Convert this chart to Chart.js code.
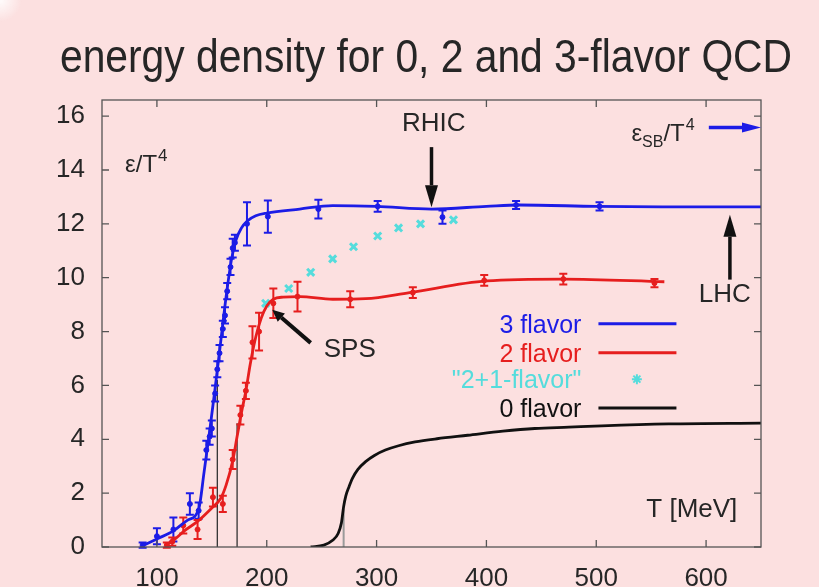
<!DOCTYPE html>
<html>
<head>
<meta charset="utf-8">
<script src="https://cdn.jsdelivr.net/npm/chart.js@4.4.1/dist/chart.umd.min.js"></script>
<style>
  html, body { margin: 0; padding: 0; background: #fce0e0; }
  #wrap { width: 819px; height: 587px; position: relative; }
</style>
</head>
<body>
<div id="wrap"><canvas id="qcd-chart"></canvas></div>
<script>
// axis ticks
const xTicks = [100, 200, 300, 400, 500, 600];
const yTicks = [0, 2, 4, 6, 8, 10, 12, 14, 16];

// 3 flavor: fitted curve
const blueLineT = [87, 100, 115, 128, 138, 143, 148, 153, 158, 163, 168, 172, 177, 182, 190, 200, 230, 260, 300, 350, 400, 430, 500, 560, 650];
const blueLineE = [0.05, 0.3, 0.6, 1.0, 1.4, 2.8, 4.3, 5.9, 7.6, 9.3, 10.7, 11.4, 11.85, 12.1, 12.3, 12.4, 12.55, 12.68, 12.65, 12.55, 12.65, 12.7, 12.65, 12.63, 12.63];
// 3 flavor: lattice points with errors
const blueT = [87, 100, 115, 130, 138, 145, 148, 150, 153, 155, 157, 160, 162, 164, 167, 169, 171, 182, 201, 247, 301, 360, 427, 503];
const blueE = [0.07, 0.4, 0.65, 1.6, 1.35, 3.6, 4.1, 4.4, 5.7, 6.6, 7.2, 8.1, 8.6, 9.5, 10.4, 11.1, 11.3, 12.0, 12.27, 12.55, 12.65, 12.25, 12.7, 12.65];
const blueErr = [0.1, 0.3, 0.45, 0.4, 0.3, 0.35, 0.3, 0.3, 0.3, 0.3, 0.3, 0.3, 0.3, 0.3, 0.3, 0.35, 0.3, 0.8, 0.6, 0.35, 0.2, 0.25, 0.15, 0.15];

// 2 flavor: fitted curve
const redLineT = [107, 115, 125, 137, 150, 158, 163, 169, 173, 177, 181, 185, 190, 195, 200, 206, 215, 230, 260, 290, 330, 400, 470, 562];
const redLineE = [0.05, 0.25, 0.6, 0.95, 1.45, 1.8, 2.3, 3.2, 4.1, 5.0, 5.8, 6.8, 7.8, 8.5, 8.95, 9.2, 9.28, 9.3, 9.2, 9.22, 9.45, 9.88, 9.95, 9.85];
// 2 flavor: lattice points with errors
const redT = [109, 114, 124, 137, 151, 160, 169, 176, 181, 187, 193, 206, 228, 276, 333, 398, 470, 553];
const redE = [0.07, 0.2, 0.8, 0.65, 1.85, 1.6, 3.25, 4.9, 5.8, 7.6, 8.0, 9.05, 9.3, 9.2, 9.45, 9.9, 9.95, 9.8];
const redErr = [0.1, 0.15, 0.3, 0.35, 0.35, 0.3, 0.35, 0.35, 0.3, 0.6, 0.7, 0.55, 0.55, 0.3, 0.2, 0.2, 0.2, 0.15];

// "2+1-flavor" stars
const starT = [199, 220, 240, 260, 279, 301, 320, 340, 370];
const starE = [9.05, 9.6, 10.2, 10.7, 11.15, 11.55, 11.85, 12.0, 12.15];

// 0 flavor (pure gauge)
const zeroT = [240, 252, 260, 265, 268, 270, 272, 275, 278, 283, 290, 298, 308, 320, 335, 355, 383, 415, 444, 475, 505, 566, 650];
const zeroE = [0, 0.07, 0.25, 0.5, 0.9, 1.5, 1.9, 2.25, 2.55, 2.88, 3.17, 3.4, 3.6, 3.76, 3.9, 4.02, 4.15, 4.3, 4.4, 4.45, 4.5, 4.57, 4.6];

// transition temperatures (drop lines)
const tcT = [155, 173];
const tcTop = [6.2, 4.6];
const tcGaugeT = 270;
const tcGaugeTop = 1.4;

const BLUE = '#1c1ce6';
const RED = '#e61e1e';
const CYAN = '#55dcdc';
const INK = '#262626';
const FONT = '"Liberation Sans", Arial, Helvetica, sans-serif';

const pts = (xs, ys) => xs.map((x, i) => ({ x: x, y: ys[i] }));

function arrow(ctx, x1, y1, x2, y2, color, width, headLen, headW) {
    const a = Math.atan2(y2 - y1, x2 - x1);
    const bx = x2 - headLen * Math.cos(a), by = y2 - headLen * Math.sin(a);
    ctx.save();
    ctx.strokeStyle = color;
    ctx.fillStyle = color;
    ctx.lineWidth = width;
    ctx.beginPath();
    ctx.moveTo(x1, y1);
    ctx.lineTo(bx, by);
    ctx.stroke();
    ctx.beginPath();
    ctx.moveTo(x2, y2);
    ctx.lineTo(bx + headW / 2 * Math.sin(a), by - headW / 2 * Math.cos(a));
    ctx.lineTo(bx - headW / 2 * Math.sin(a), by + headW / 2 * Math.cos(a));
    ctx.closePath();
    ctx.fill();
    ctx.restore();
}

const decor = {
    id: 'decor',
    beforeDraw(chart) {
        // soft white corner of the original slide
        const ctx = chart.ctx;
        ctx.save();
        const g = ctx.createRadialGradient(0, 0, 0, 0, 0, 22);
        g.addColorStop(0, 'rgba(255,255,255,0.9)');
        g.addColorStop(1, 'rgba(255,255,255,0)');
        ctx.fillStyle = g;
        ctx.fillRect(0, 0, 24, 24);
        ctx.restore();
    },
    beforeDatasetsDraw(chart) {
        const ctx = chart.ctx, x = chart.scales.x, y = chart.scales.y;
        ctx.save();
        // Tc drop lines
        ctx.strokeStyle = '#333';
        ctx.lineWidth = 1.3;
        tcT.forEach((t, i) => {
            ctx.beginPath();
            ctx.moveTo(x.getPixelForValue(t), y.getPixelForValue(0));
            ctx.lineTo(x.getPixelForValue(t), y.getPixelForValue(tcTop[i]));
            ctx.stroke();
        });
        ctx.strokeStyle = '#9a9a9a';
        ctx.lineWidth = 2;
        ctx.beginPath();
        ctx.moveTo(x.getPixelForValue(tcGaugeT), y.getPixelForValue(0));
        ctx.lineTo(x.getPixelForValue(tcGaugeT), y.getPixelForValue(tcGaugeTop));
        ctx.stroke();

        // error bars
        const bars = (ts, es, errs, color) => {
            ctx.strokeStyle = color;
            ctx.lineWidth = 2;
            ts.forEach((t, i) => {
                const px = x.getPixelForValue(t);
                const lo = y.getPixelForValue(es[i] - errs[i]);
                const hi = y.getPixelForValue(es[i] + errs[i]);
                ctx.beginPath();
                ctx.moveTo(px, lo); ctx.lineTo(px, hi);
                ctx.moveTo(px - 4, lo); ctx.lineTo(px + 4, lo);
                ctx.moveTo(px - 4, hi); ctx.lineTo(px + 4, hi);
                ctx.stroke();
            });
        };
        bars(blueT, blueE, blueErr, BLUE);
        bars(redT, redE, redErr, RED);
        ctx.restore();
    },
    afterDraw(chart) {
        const ctx = chart.ctx, x = chart.scales.x, y = chart.scales.y;
        const a = chart.chartArea;
        const X = v => x.getPixelForValue(v), Y = v => y.getPixelForValue(v);
        ctx.save();

        // frame and inward ticks
        ctx.strokeStyle = '#555';
        ctx.lineWidth = 1.3;
        ctx.strokeRect(a.left, a.top, a.right - a.left, a.bottom - a.top);
        ctx.beginPath();
        xTicks.forEach(v => {
            ctx.moveTo(X(v), a.bottom); ctx.lineTo(X(v), a.bottom - 7);
            ctx.moveTo(X(v), a.top); ctx.lineTo(X(v), a.top + 7);
        });
        yTicks.forEach(v => {
            ctx.moveTo(a.left, Y(v)); ctx.lineTo(a.left + 7, Y(v));
            ctx.moveTo(a.right, Y(v)); ctx.lineTo(a.right - 7, Y(v));
        });
        ctx.stroke();

        // title
        const title = 'energy density for 0, 2 and 3-flavor QCD';
        ctx.fillStyle = INK;
        ctx.textBaseline = 'alphabetic';
        ctx.textAlign = 'left';
        ctx.font = '46px "Liberation Sans Narrow", ' + FONT;
        const tw = ctx.measureText(title).width;
        ctx.save();
        ctx.translate(60, 72);
        ctx.scale(732 / tw, 1);
        ctx.fillText(title, 0, 0);
        ctx.restore();

        // y axis label  ε/T^4
        ctx.font = '24px ' + FONT;
        let cx = X(71);
        ctx.fillText('ε/T', cx, Y(13.94));
        cx += ctx.measureText('ε/T').width + 1;
        ctx.font = '17px ' + FONT;
        ctx.fillText('4', cx, Y(13.94) - 11);

        // x axis label
        ctx.font = '26px ' + FONT;
        ctx.textAlign = 'center';
        ctx.fillText('T [MeV]', X(587), Y(1.12));

        // RHIC
        ctx.fillText('RHIC', X(352), Y(15.45));
        arrow(ctx, X(350), Y(14.85), X(350), Y(12.62), '#111', 3.5, 22, 13);

        // LHC
        ctx.fillText('LHC', X(617), Y(9.1));
        arrow(ctx, X(621.7), Y(9.93), X(621.7), Y(12.34), '#111', 3.5, 22, 13);

        // SPS
        ctx.fillText('SPS', X(275.6), Y(7.06));
        arrow(ctx, X(240), Y(7.58), X(205), Y(8.81), '#111', 4, 12, 11);

        // Stefan-Boltzmann limit
        ctx.textAlign = 'left';
        ctx.font = '24px ' + FONT;
        let sx = X(532);
        const sy = Y(15.06);
        ctx.fillText('ε', sx, sy);
        sx += ctx.measureText('ε').width;
        ctx.font = '16px ' + FONT;
        ctx.fillText('SB', sx, sy + 6);
        sx += ctx.measureText('SB').width;
        ctx.font = '24px ' + FONT;
        ctx.fillText('/T', sx, sy);
        sx += ctx.measureText('/T').width + 1;
        ctx.font = '16px ' + FONT;
        ctx.fillText('4', sx, sy - 11);
        arrow(ctx, X(602.5), Y(15.58), a.right, Y(15.58), BLUE, 3.5, 19, 10);

        // legend
        ctx.font = '25px ' + FONT;
        ctx.textAlign = 'right';
        const legend = [
            { text: '3 flavor', color: BLUE, base: 7.96, mark: 'line' },
            { text: '2 flavor', color: RED, base: 6.88, mark: 'line' },
            { text: '"2+1-flavor"', color: CYAN, base: 5.9, mark: 'star' },
            { text: '0 flavor', color: '#111', base: 4.83, mark: 'line' }
        ];
        legend.forEach(item => {
            ctx.fillStyle = item.color;
            ctx.fillText(item.text, X(486.5), Y(item.base));
            const my = Y(item.base) - 9;
            ctx.strokeStyle = item.color;
            ctx.lineWidth = 3;
            if (item.mark === 'line') {
                ctx.beginPath();
                ctx.moveTo(X(502), my);
                ctx.lineTo(X(573), my);
                ctx.stroke();
            } else {
                const c = X(537);
                ctx.lineWidth = 2;
                ctx.beginPath();
                for (let k = 0; k < 4; k++) {
                    const ang = k * Math.PI / 4;
                    ctx.moveTo(c - 5 * Math.cos(ang), my - 5 * Math.sin(ang));
                    ctx.lineTo(c + 5 * Math.cos(ang), my + 5 * Math.sin(ang));
                }
                ctx.stroke();
            }
        });
        ctx.restore();
    }
};

new Chart(document.getElementById('qcd-chart'), {
    type: 'line',
    data: {
        datasets: [
            {
                label: '3 flavor fit',
                data: pts(blueLineT, blueLineE),
                borderColor: BLUE,
                borderWidth: 2.8,
                pointRadius: 0,
                cubicInterpolationMode: 'monotone'
            },
            {
                label: '2 flavor fit',
                data: pts(redLineT, redLineE),
                borderColor: RED,
                borderWidth: 2.8,
                pointRadius: 0,
                cubicInterpolationMode: 'monotone'
            },
            {
                label: '0 flavor',
                data: pts(zeroT, zeroE),
                borderColor: '#111',
                borderWidth: 2.8,
                pointRadius: 0,
                cubicInterpolationMode: 'monotone'
            },
            {
                label: '3 flavor',
                data: pts(blueT, blueE),
                showLine: false,
                pointRadius: 2.5,
                pointBackgroundColor: BLUE,
                pointBorderColor: BLUE
            },
            {
                label: '2 flavor',
                data: pts(redT, redE),
                showLine: false,
                pointRadius: 2.5,
                pointBackgroundColor: RED,
                pointBorderColor: RED
            },
            {
                label: '2+1-flavor',
                data: pts(starT, starE),
                showLine: false,
                pointStyle: 'crossRot',
                pointRadius: 5,
                pointBorderWidth: 3,
                pointBorderColor: CYAN,
                pointBackgroundColor: CYAN
            }
        ]
    },
    options: {
        responsive: true,
        maintainAspectRatio: false,
        animation: false,
        layout: { padding: { left: 0, right: 58, top: 100, bottom: 0 } },
        plugins: {
            legend: { display: false },
            tooltip: { enabled: false },
            title: { display: false }
        },
        scales: {
            x: {
                type: 'linear',
                min: 50,
                max: 650,
                afterBuildTicks: s => { s.ticks = xTicks.map(v => ({ value: v })); },
                afterFit: s => { s.height = 40; },
                grid: { display: false, drawTicks: false },
                border: { display: false },
                ticks: {
                    color: INK,
                    padding: 16,
                    font: { family: FONT, size: 26 }
                }
            },
            y: {
                type: 'linear',
                min: 0,
                max: 16.6,
                afterBuildTicks: s => { s.ticks = yTicks.map(v => ({ value: v })); },
                afterFit: s => { s.width = 102; },
                grid: { display: false, drawTicks: false },
                border: { display: false },
                ticks: {
                    color: INK,
                    padding: 17,
                    font: { family: FONT, size: 26 }
                }
            }
        }
    },
    plugins: [decor]
});
</script>
</body>
</html>
